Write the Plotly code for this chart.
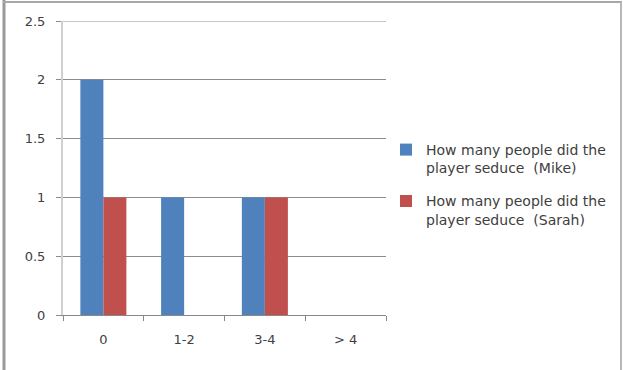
import plotly.graph_objects as go

categories = ["0", "1-2", "3-4", "> 4"]
mike = [2, 1, 1, 0]
sarah = [1, 0, 1, 0]
series_names = [
    "How many people did the<br>player seduce  (Mike)",
    "How many people did the<br>player seduce  (Sarah)",
]
y_ticks = [0, 0.5, 1, 1.5, 2, 2.5]
y_tick_labels = ["0", "0.5", "1", "1.5", "2", "2.5"]

FONT = "DejaVu Sans, sans-serif"
TEXT_COLOR = "#404040"
GRID_COLOR = "#8c8c8c"

fig = go.Figure()
fig.add_trace(go.Bar(x=categories, y=mike, name=series_names[0], legendgroup="mike",
                     marker=dict(color="#4F81BD", line=dict(width=0))))
fig.add_trace(go.Bar(x=categories, y=sarah, name=series_names[1], legendgroup="sarah",
                     marker=dict(color="#C0504D", line=dict(width=0))))

# plot area spans px 63..386 horizontally, 21..315 vertically
L, R, T, B = 63, 386, 21, 315
W, H = 623, 370

def px_x(p):
    return (p - L) / (R - L)

def px_y(p):
    return (B - p) / (B - T)

shapes = [
    # top gridline at the range edge
    dict(type="line", xref="paper", yref="y", x0=0, x1=1, y0=2.5, y1=2.5,
         line=dict(color=GRID_COLOR, width=1)),
    # outer chart frame
    dict(type="line", xref="paper", yref="paper", x0=px_x(4), x1=px_x(4),
         y0=px_y(0), y1=px_y(370), line=dict(color="#9a9a9a", width=3)),
    dict(type="line", xref="paper", yref="paper", x0=px_x(3), x1=px_x(622),
         y0=px_y(2), y1=px_y(2), line=dict(color="#a8a8a8", width=2)),
    dict(type="line", xref="paper", yref="paper", x0=px_x(621), x1=px_x(621),
         y0=px_y(2), y1=px_y(370), line=dict(color="#b8b8b8", width=2)),
]

fig.update_layout(
    width=W, height=H,
    margin=dict(l=L, r=W - R, t=T, b=H - B, pad=0),
    paper_bgcolor="white", plot_bgcolor="white",
    barmode="group", bargap=0.43, bargroupgap=0,
    font=dict(family=FONT, size=13, color=TEXT_COLOR),
    shapes=shapes,
    showlegend=True,
    legend=dict(
        x=px_x(386), y=px_y(134), xanchor="left", yanchor="top",
        font=dict(family=FONT, size=14, color=TEXT_COLOR),
        itemwidth=30, tracegroupgap=12, bgcolor="rgba(0,0,0,0)",
        traceorder="grouped", valign="top",
    ),
    xaxis=dict(
        type="category", showgrid=False, showline=True, linecolor="#888888",
        linewidth=1, ticks="outside", ticklen=5, tickcolor="#888888",
        tickson="boundaries", tickfont=dict(size=13, color=TEXT_COLOR),
        ticklabelstandoff=12,
    ),
    yaxis=dict(
        range=[0, 2.5], tickvals=y_ticks, ticktext=y_tick_labels,
        showgrid=True, gridcolor=GRID_COLOR, gridwidth=1,
        showline=True, linecolor="#d0d0d0", linewidth=2,
        ticks="outside", ticklen=5, tickcolor=GRID_COLOR,
        zeroline=False, tickfont=dict(size=13, color=TEXT_COLOR),
        ticklabelstandoff=8,
    ),
)

fig.write_html("out.html")
